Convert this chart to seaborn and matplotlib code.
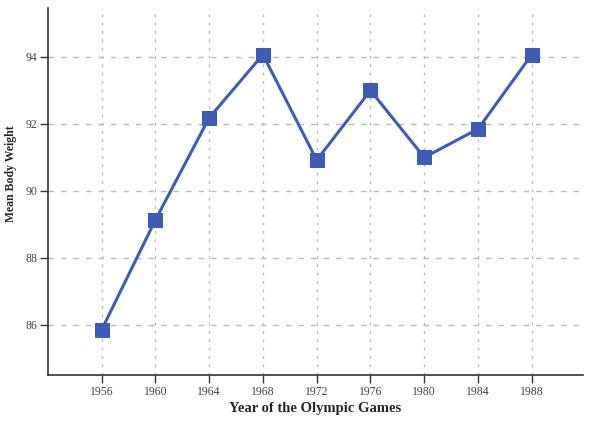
import pandas as pd
import matplotlib
matplotlib.use("Agg")
import matplotlib.pyplot as plt
import seaborn as sns

years = [1956, 1960, 1964, 1968, 1972, 1976, 1980, 1984, 1988]
weights = [85.85, 89.13, 92.18, 94.07, 90.92, 93.0, 91.0, 91.85, 94.07]

df = pd.DataFrame({"year": years, "weight": weights})

sns.set_style("white")
plt.rcParams["font.family"] = ["Liberation Serif", "DejaVu Serif"]

fig = plt.figure(figsize=(5.9, 4.22), dpi=100)
ax = fig.add_axes([0.081, 0.111, 0.907, 0.870])

sns.lineplot(data=df, x="year", y="weight", ax=ax, color="#3f5bb5",
             linewidth=2.2, marker="s", markersize=10,
             markerfacecolor="#3f5bb5", markeredgecolor="#3f5bb5", zorder=3)

ax.set_xlim(1952, 1991.8)
ax.set_ylim(84.5, 95.46)
ax.set_xticks(years)
ax.set_yticks([86, 88, 90, 92, 94])
ax.tick_params(axis="both", bottom=True, left=True, direction="out",
               length=6, width=1, pad=1.5,
               colors="#333333", labelsize=8.5, labelcolor="#444444")

ax.xaxis.grid(True, color="#bbbbbb", linestyle=(0, (2, 4)), linewidth=1)
ax.yaxis.grid(True, color="#bbbbbb", linestyle=(0, (4, 5)), linewidth=1)
for s in ["top", "right"]:
    ax.spines[s].set_visible(False)
for s in ["left", "bottom"]:
    ax.spines[s].set_color("#333333")
    ax.spines[s].set_linewidth(1.2)

ax.set_xlabel("Year of the Olympic Games", fontsize=10.5, fontweight="bold")
ax.set_ylabel("Mean Body Weight", fontsize=8.5, fontweight="bold")
ax.xaxis.set_label_coords(0.5, -0.074)
ax.yaxis.set_label_coords(-0.058, 0.55)

fig.savefig("out.png", dpi=100)
